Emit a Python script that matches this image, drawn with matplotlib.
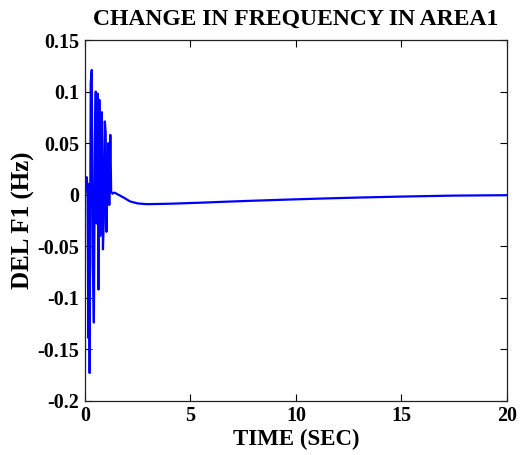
import matplotlib
matplotlib.use("Agg")
import matplotlib.pyplot as plt

# Frequency deviation of area 1 after the load disturbance
time_sec = [0.00, 0.04, 0.08, 0.12, 0.16, 0.19, 0.22, 0.27, 0.32, 0.37,
            0.42, 0.47, 0.51, 0.55, 0.60, 0.64, 0.68, 0.72, 0.76, 0.80,
            0.85, 0.89, 0.94, 0.98, 1.02, 1.07, 1.11, 1.15, 1.20, 1.24,
            1.30, 1.40, 1.85, 2.13, 2.50, 2.92, 4.00, 5.45, 6.70, 8.06,
            9.56, 11.14, 12.95, 15.10, 17.50, 20.00]
del_f1 = [0.000, 0.013, 0.017, 0.008, -0.139, 0.010, -0.173, 0.108, 0.121, -0.068,
          -0.124, 0.055, 0.100, -0.028, 0.098, -0.092, 0.092, -0.040, 0.040, 0.080,
          -0.053, -0.026, 0.071, 0.060, -0.036, 0.020, 0.050, -0.010, 0.058, 0.003,
          0.001, 0.002, -0.003, -0.0065, -0.0085, -0.0092, -0.0088, -0.0078, -0.0068, -0.0058,
          -0.0048, -0.0038, -0.0028, -0.0018, -0.0009, -0.0005]

x_ticks = [0, 5, 10, 15, 20]
y_ticks = [-0.2, -0.15, -0.1, -0.05, 0, 0.05, 0.1, 0.15]
y_tick_labels = ["-0.2", "-0.15", "-0.1", "-0.05", "0", "0.05", "0.1", "0.15"]

plt.rcParams["font.family"] = ["Liberation Serif", "DejaVu Serif"]
plt.rcParams["font.weight"] = "bold"

fig = plt.figure(figsize=(5.28, 4.55), dpi=100)
ax = fig.add_axes([0.161, 0.119, 0.799, 0.793])

ax.plot(time_sec, del_f1, color=(0, 0, 1), linewidth=1.6)

ax.set_xlim(0, 20)
ax.set_ylim(-0.2, 0.15)
ax.set_xticks(x_ticks)
ax.set_xticklabels([str(v) for v in x_ticks])
ax.set_yticks(y_ticks)
ax.set_yticklabels(y_tick_labels)

ax.tick_params(direction="in", top=True, right=True, length=5, width=0.8,
               labelsize=14.4)
ax.tick_params(axis="x", pad=3.5)
ax.tick_params(axis="y", pad=4)
for lbl in ax.get_xticklabels() + ax.get_yticklabels():
    lbl.set_fontweight("bold")
for sp in ax.spines.values():
    sp.set_linewidth(0.9)
    sp.set_color("#222222")

ax.set_title("CHANGE IN FREQUENCY IN AREA1", fontsize=17, fontweight="bold", pad=11)
ax.set_xlabel("TIME (SEC)", fontsize=16.5, fontweight="bold", labelpad=2)
ax.set_ylabel("DEL F1 (Hz)", fontsize=18, fontweight="bold", labelpad=2)

fig.savefig("out.png", dpi=100, facecolor="white")
